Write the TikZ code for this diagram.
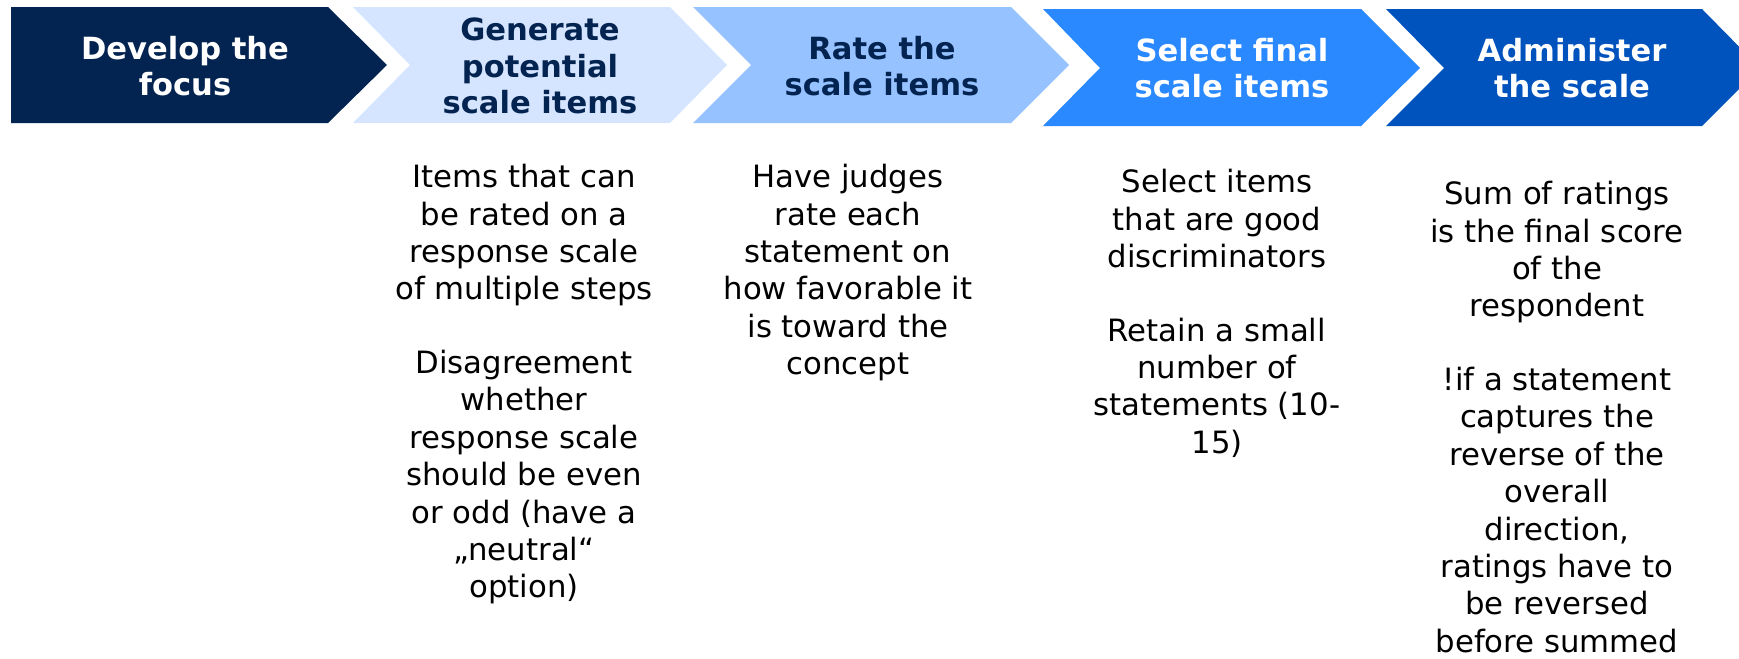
\documentclass[tikz,border=0pt]{standalone}
\usepackage{fontspec}
\setmainfont{DejaVu Sans}
\usetikzlibrary{positioning}

\definecolor{navy}{RGB}{3,35,80}
\definecolor{paleblue}{RGB}{213,229,255}
\definecolor{skyblue}{RGB}{150,194,255}
\definecolor{brightblue}{RGB}{43,137,255}
\definecolor{royalblue}{RGB}{0,82,189}

\tikzset{
  head/.style={align=center, inner sep=0pt, font=\fontsize{17.4}{20.6}\selectfont\bfseries},
  body/.style={align=center, anchor=north, inner sep=0pt, font=\fontsize{17.5}{21.3}\selectfont},
}

\begin{document}
\begin{tikzpicture}[x=0.02cm, y=-0.02cm]
\useasboundingbox (0,0) rectangle (1739,659);

% chevrons
\fill[navy] (11,7) -- (328,7) -- (387,65) -- (328,123) -- (11,123) -- cycle;
\fill[paleblue] (353,7) -- (670,7) -- (727,65) -- (670,123) -- (353,123) -- (410,65) -- cycle;
\fill[skyblue] (693,7) -- (1011,7) -- (1069,65) -- (1011,123) -- (693,123) -- (751,65) -- cycle;
\fill[brightblue] (1043,9) -- (1361,9) -- (1420,68) -- (1361,126) -- (1043,126) -- (1100,68) -- cycle;
\fill[royalblue] (1386,9) -- (1702,9) -- (1760,68) -- (1702,126) -- (1386,126) -- (1444,68) -- cycle;

% step titles
\node[head, text=white] (focus) at (185,66) {Develop the\\focus};
\node[head, text=navy] (generate) at (540,66) {Generate\\potential\\scale items};
\node[head, text=navy] (rate) at (882,66) {Rate the\\scale items};
\node[head, text=white] (select) at (1232,68.5) {Select final\\scale items};
\node[head, text=white] (administer) at (1572,68.5) {Administer\\the scale};

% step descriptions
\node[body] (generatetext) at (524,164) {Items that can\\be rated on a\\response scale\\of multiple steps\\[20.5pt]
  Disagreement\\whether\\response scale\\should be even\\or odd (have a\\„neutral“\\option)};
\node[body] (ratetext) at (848,164) {Have judges\\rate each\\statement on\\how favorable it\\is toward the\\concept};
\node[body] (selecttext) at (1217,169) {Select items\\that are good\\discriminators\\[20.5pt]
  Retain a small\\number of\\statements (10-\\15)};
\node[body] (administertext) at (1557,181) {Sum of ratings\\is the final score\\of the\\respondent\\[20.5pt]
  !if a statement\\captures the\\reverse of the\\overall\\direction,\\ratings have to\\be reversed\\before summed};

\end{tikzpicture}
\end{document}
